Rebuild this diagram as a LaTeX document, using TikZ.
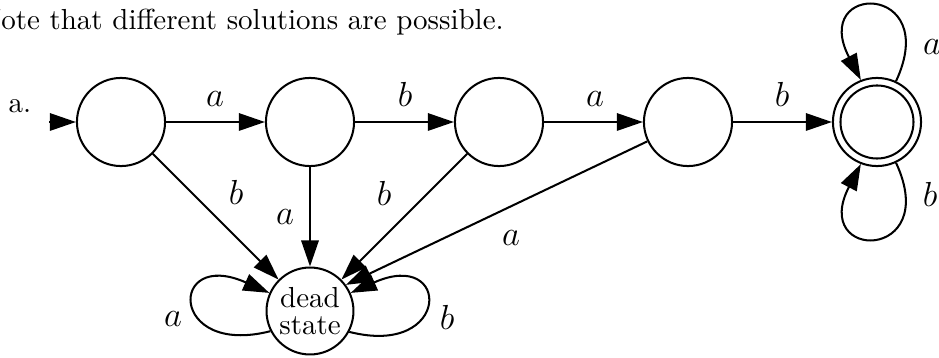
\documentclass[tikz,border=0pt]{standalone}
\usetikzlibrary{arrows.meta}
\begin{document}
\begin{tikzpicture}[x=0.345pt, y=0.345pt,
  state/.style={circle, draw, line width=0.7pt, minimum size=30.4pt, inner sep=0pt},
  edge/.style={line width=0.7pt, -{Triangle[length=9pt,width=6pt]}},
  lbl/.style={anchor=base, inner sep=0pt, font=\fontsize{11.5}{14}\selectfont}]
\useasboundingbox (0,0) rectangle (939,358);
% heading
\node[anchor=base west, inner sep=0pt] (note) at (-21,328) {Note that different solutions are possible.};
\node[anchor=base west, inner sep=0pt] (part) at (8,245) {a.};
% states
\node[state] (s1) at (121,236) {};
\node[state] (s2) at (310,236) {};
\node[state] (s3) at (499,236) {};
\node[state] (s4) at (688,236) {};
\node[state] (f) at (877,236) {};
\node[circle, draw, line width=0.7pt, minimum size=25.2pt, inner sep=0pt] (fi) at (f) {};
\node[state, minimum size=30pt, align=center, font=\fontsize{10}{9.4}\selectfont] (dead) at (310,47) {dead\\state};
% start
\coordinate (start) at (49,236);
\draw[edge] (start) -- (s1);
% main chain
\draw[edge] (s1) -- (s2);
\draw[edge] (s2) -- (s3);
\draw[edge] (s3) -- (s4);
\draw[edge] (s4) -- (f);
\node[lbl] (l12) at (215,251) {$a$};
\node[lbl] (l23) at (405,251) {$b$};
\node[lbl] (l34) at (595,251) {$a$};
\node[lbl] (l4f) at (782,251) {$b$};
% final loops
\draw[edge] (f.65) .. controls +(46,99) and +(-51,98) .. (f.111);
\draw[edge] (f.-65) .. controls +(46,-99) and +(-51,-98) .. (f.-111);
\node[lbl] (lfa) at (932,303) {$a$};
\node[lbl] (lfb) at (930,151) {$b$};
% to dead state
\draw[edge] (s1) -- (dead);
\draw[edge] (s2) -- (dead);
\draw[edge] (s3) -- (dead);
\draw[edge] (s4) -- (dead.36);
\node[lbl] (l1d) at (236,153) {$b$};
\node[lbl] (l2d) at (285,133) {$a$};
\node[lbl] (l3d) at (384,152) {$b$};
\node[lbl] (l4d) at (511,112) {$a$};
% dead loops
\draw[edge] (dead.-28) .. controls +(102,-26) and +(101,45) .. (dead.24);
\draw[edge] (dead.207) .. controls +(-102,-26) and +(-101,45) .. (dead.156);
\node[lbl] (lda) at (173,31) {$a$};
\node[lbl] (ldb) at (447,28) {$b$};
\end{tikzpicture}
\end{document}
